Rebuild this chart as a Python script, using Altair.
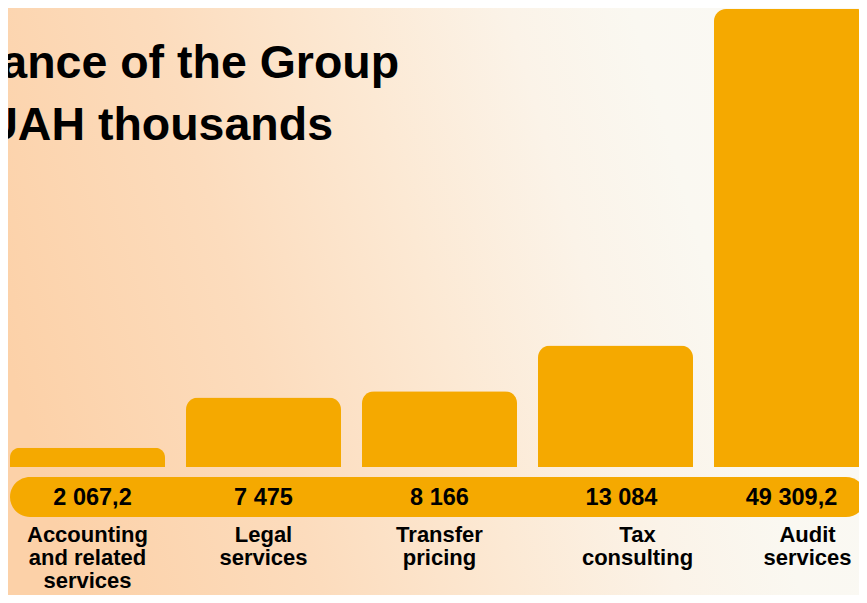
import altair as alt
import pandas as pd

# ---- data ----
categories = ["Accounting and related services", "Legal services", "Transfer pricing",
              "Tax consulting", "Audit services"]
labels = ["Accounting\nand related\nservices", "Legal\nservices", "Transfer\npricing",
          "Tax\nconsulting", "Audit\nservices"]
values = [2067.2, 7475, 8166, 13084, 49309.2]
title_line1 = "Performance of the Group"
title_line2 = "in UAH thousands"


def fmt(v):
    s = f"{v:,.1f}".replace(",", " ").replace(".", ",")
    if s.endswith(",0"):
        s = s[:-2]
    return s


df = pd.DataFrame({
    "category": categories,
    "label": labels,
    "value": values,
    "vtext": [fmt(v) for v in values],
})

# ---- style ----
W, H = 851, 587
BAR = "#F5A900"
FONT = "Liberation Sans"
label_dx = {"Tax consulting": 22, "Audit services": 16}
value_dx = {"Accounting and related services": 5, "Tax consulting": 6}

xscale = alt.Scale(domain=categories, range=[2, 861], paddingInner=0.1193, paddingOuter=0)
yscale = alt.Scale(domain=[0, max(values)], range=[459, 1])
X = alt.X("category:N", scale=xscale, axis=None, sort=categories)

one = pd.DataFrame({"a": [0]})

bg = alt.Chart(one).mark_rect(
    color=alt.LinearGradient(
        gradient="linear", x1=0, y1=0.6, x2=1, y2=0.4,
        stops=[
            alt.GradientStop(offset=0, color="#FCD1A8"),
            alt.GradientStop(offset=0.28, color="#FCDCBD"),
            alt.GradientStop(offset=0.5, color="#FCE9D4"),
            alt.GradientStop(offset=0.68, color="#FBF3E8"),
            alt.GradientStop(offset=0.82, color="#FAF8F1"),
            alt.GradientStop(offset=1, color="#FAF9F5"),
        ],
    )
).encode(x=alt.value(0), x2=alt.value(W), y=alt.value(0), y2=alt.value(H))

pill = alt.Chart(one).mark_rect(color=BAR, cornerRadius=20).encode(
    x=alt.value(2), x2=alt.value(858), y=alt.value(469), y2=alt.value(509)
)

bars = alt.Chart(df).mark_bar(
    color=BAR, cornerRadiusTopLeft=12, cornerRadiusTopRight=12
).encode(
    x=X,
    y=alt.Y("value:Q", scale=yscale, axis=None),
)

layers = [bg, pill, bars]

for cat in categories:
    layers.append(
        alt.Chart(df).transform_filter(alt.datum.category == cat).mark_text(
            font=FONT, fontSize=23.5, fontWeight="bold", color="#000000",
            baseline="alphabetic", align="center", dx=value_dx.get(cat, 0)
        ).encode(x=X, y=alt.value(497), text="vtext:N")
    )
    layers.append(
        alt.Chart(df).transform_filter(alt.datum.category == cat).mark_text(
            font=FONT, fontSize=22, fontWeight="bold", color="#000000",
            baseline="alphabetic", align="center", lineBreak="\n", lineHeight=23,
            dx=label_dx.get(cat, 0)
        ).encode(x=X, y=alt.value(534), text="label:N")
    )

title1 = alt.Chart(one).mark_text(
    font=FONT, fontSize=46.5, fontWeight="bold", color="#000000",
    align="left", baseline="alphabetic", text=title_line1
).encode(x=alt.value(-185), y=alt.value(70))
title2 = alt.Chart(one).mark_text(
    font=FONT, fontSize=46.5, fontWeight="bold", color="#000000",
    align="left", baseline="alphabetic", text=title_line2
).encode(x=alt.value(-78), y=alt.value(132))
layers += [title1, title2]

chart = alt.layer(*layers).properties(
    width=W, height=H, autosize=alt.AutoSizeParams(type="none"), padding=0
).configure_view(stroke=None)

chart.save("out.html", embed_options={"renderer": "svg", "actions": False})
